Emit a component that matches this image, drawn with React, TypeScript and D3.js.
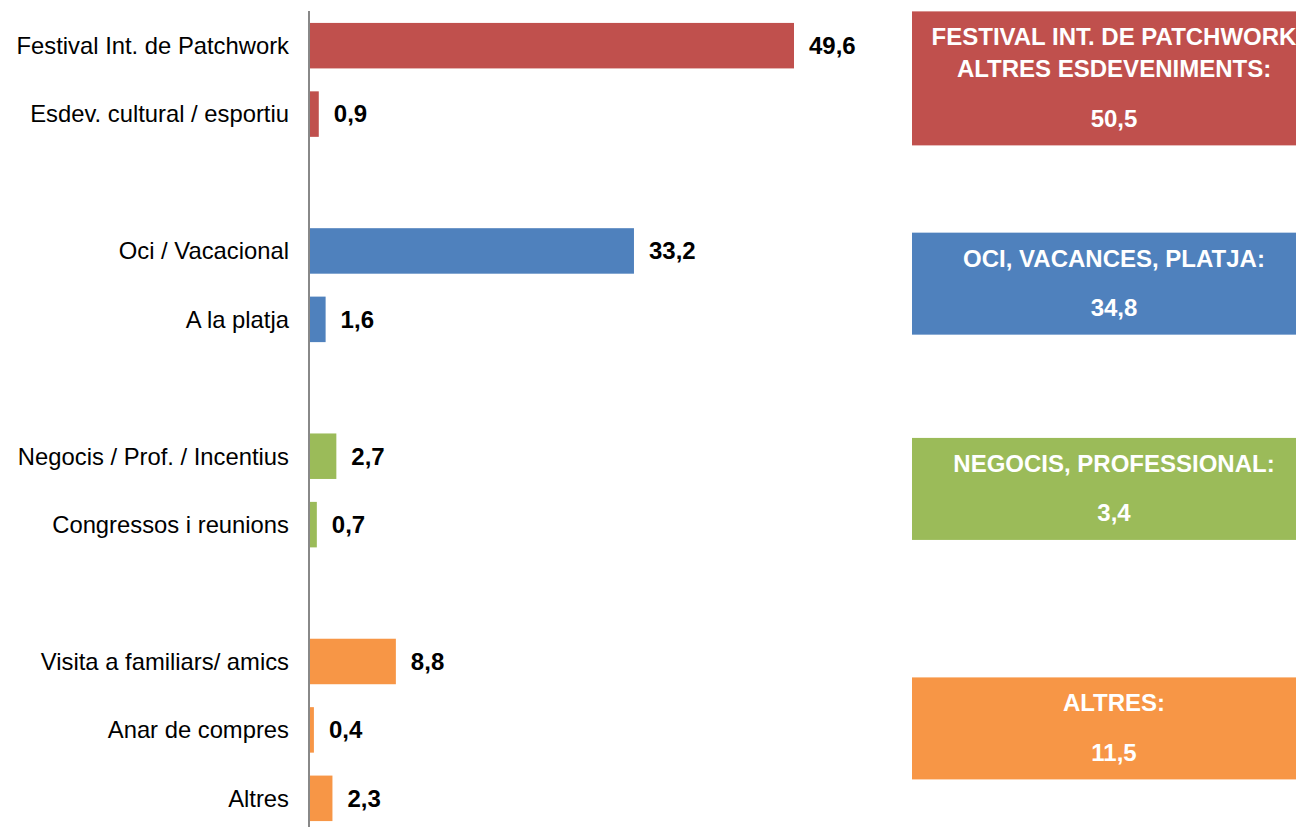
import React from "react";
import * as d3 from "d3";

// motius del viatge (%)
const categories = [
  "Festival Int. de Patchwork",
  "Esdev. cultural / esportiu",
  "Oci / Vacacional",
  "A la platja",
  "Negocis / Prof. / Incentius",
  "Congressos i reunions",
  "Visita a familiars/ amics",
  "Anar de compres",
  "Altres",
];
const values = [49.6, 0.9, 33.2, 1.6, 2.7, 0.7, 8.8, 0.4, 2.3];
const barGroup = [0, 0, 1, 1, 2, 2, 3, 3, 3];

const groupTitles = [
  ["FESTIVAL INT. DE PATCHWORK", "ALTRES ESDEVENIMENTS:"],
  ["OCI, VACANCES, PLATJA:"],
  ["NEGOCIS, PROFESSIONAL:"],
  ["ALTRES:"],
];
const groupTotals = [50.5, 34.8, 3.4, 11.5];
const groupColors = ["#C0504D", "#4F81BD", "#9BBB59", "#F79646"];

const W = 1296;
const H = 827;
const font = "'Liberation Sans', Arial, sans-serif";
const fmt = (v: number) => d3.format(".1f")(v).replace(".", ",");

export default function App() {
  // one slot per bar, plus an empty slot between groups
  const slots: string[] = [];
  categories.forEach((c, i) => {
    if (i > 0 && barGroup[i] !== barGroup[i - 1]) slots.push("gap" + i);
    slots.push(c);
  });

  const y = d3
    .scaleBand<string>()
    .domain(slots)
    .range([0, 844])
    .paddingInner(0.335)
    .paddingOuter(0.335);

  const x = d3.scaleLinear().domain([0, 50]).range([310, 797.9]);

  const boxes = groupTitles.map((lines, g) => {
    const centers = categories
      .filter((_, i) => barGroup[i] === g)
      .map((c) => (y(c) as number) + y.bandwidth() / 2);
    const mid = (d3.mean(centers) as number) - 1.5;
    const h = 102 + 32 * (lines.length - 1);
    return { lines, top: mid - h / 2, h, total: groupTotals[g], color: groupColors[g] };
  });

  return (
    <svg
      width={W}
      height={H}
      style={{ position: "absolute", left: 0, top: 0, display: "block" }}
    >
      <rect width={W} height={H} fill="#fff" />
      {categories.map((c, i) => {
        const yc = (y(c) as number) + y.bandwidth() / 2;
        return (
          <g key={c}>
            <rect
              x={x(0)}
              y={y(c)}
              width={x(values[i]) - x(0)}
              height={y.bandwidth()}
              fill={groupColors[barGroup[i]]}
            />
            <text
              x={289}
              y={yc + 8.4}
              textAnchor="end"
              fontFamily={font}
              fontSize={23.8}
              fill="#000"
            >
              {c}
            </text>
            <text
              x={x(values[i]) + 15}
              y={yc + 8.4}
              fontFamily={font}
              fontSize={24}
              fontWeight="bold"
              fill="#000"
            >
              {fmt(values[i])}
            </text>
          </g>
        );
      })}
      <line x1={309} x2={309} y1={11} y2={H} stroke="#888" strokeWidth={2} />

      {boxes.map((b, g) => (
        <g key={g}>
          <rect x={912} y={b.top} width={420} height={b.h} fill={b.color} />
          {b.lines.map((t, k) => (
            <text
              key={k}
              x={1114}
              y={b.top + 25.5 + 32 * k + 8.4}
              textAnchor="middle"
              fontFamily={font}
              fontSize={24}
              fontWeight="bold"
              fill="#fff"
            >
              {t}
            </text>
          ))}
          <text
            x={1114}
            y={b.top + 25.5 + 32 * (b.lines.length - 1) + 49.5 + 8.4}
            textAnchor="middle"
            fontFamily={font}
            fontSize={24}
            fontWeight="bold"
            fill="#fff"
          >
            {fmt(b.total)}
          </text>
        </g>
      ))}
    </svg>
  );
}
